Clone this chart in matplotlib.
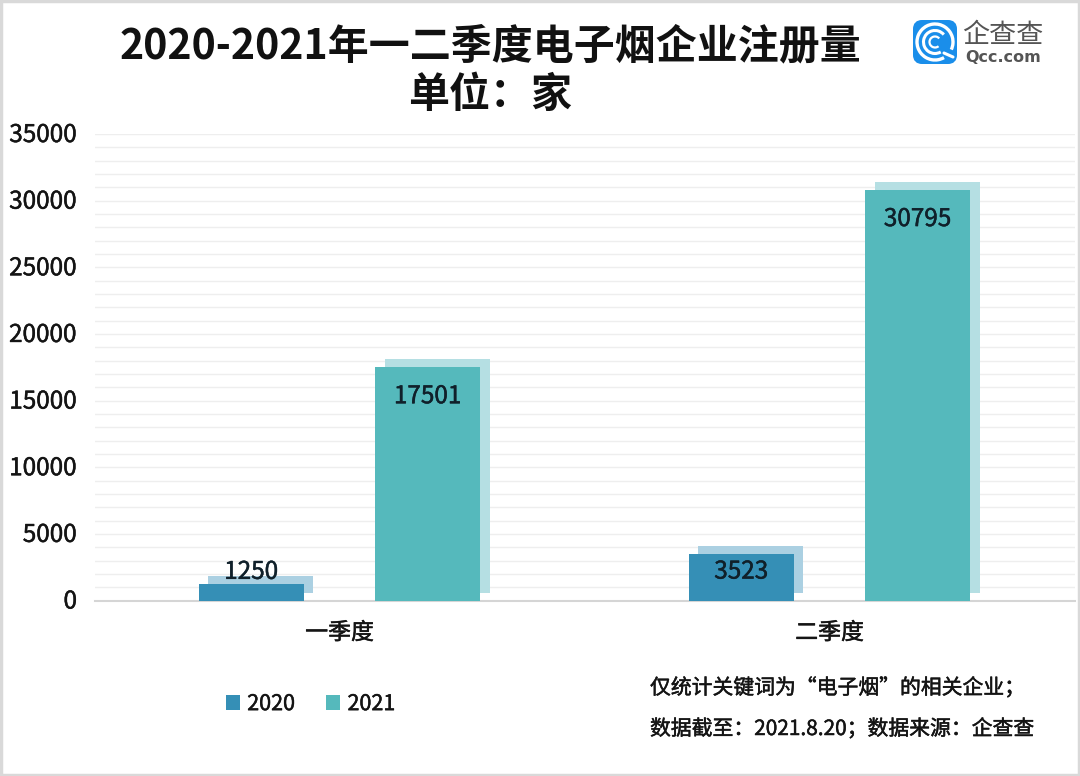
import matplotlib
matplotlib.use("Agg")
import matplotlib.pyplot as plt
import matplotlib.patheffects as pe
from matplotlib.patches import Rectangle, FancyBboxPatch, Arc
from matplotlib.transforms import ScaledTranslation
from matplotlib.ticker import MultipleLocator
import numpy as np

plt.rcParams['font.family'] = ['Noto Sans CJK SC', 'DejaVu Sans']

categories = ['一季度', '二季度']
series_names = ['2020', '2021']
values_2020 = [1250, 3523]
values_2021 = [17501, 30795]
y_ticks = [0, 5000, 10000, 15000, 20000, 25000, 30000, 35000]
title_lines = ['2020-2021年一二季度电子烟企业注册量', '单位：家']
note_lines = ['仅统计关键词为“电子烟”的相关企业；', '数据截至：2021.8.20；数据来源：企查查']

W, H = 1080, 776
C20, C21 = '#358fb6', '#55b9bc'
S20, S21 = '#abd0e2', '#b5dfe3'
TXT = '#141414'


def heavier(t, color=TXT, w=0.35):
    """Give regular text the slightly heavier look of the reference."""
    t.set_path_effects([pe.withStroke(linewidth=w, foreground=color)])


fig = plt.figure(figsize=(W / 100, H / 100), dpi=100, facecolor='white')
ax = fig.add_axes([94.5 / W, 1 - 600.5 / H, 980 / W, 466.5 / H])
ax.set_xlim(-0.5, 1.5)
ax.set_ylim(0, 35000)
ax.patch.set_alpha(0)

x = np.arange(len(categories))
off, bw = 0.18, 0.214
shift = ax.transData + ScaledTranslation(9.5 / 100, 8 / 100, fig.dpi_scale_trans)
ax.bar(x - off, values_2020, bw, color=S20, transform=shift, zorder=2)
ax.bar(x + off, values_2021, bw, color=S21, transform=shift, zorder=2)
ax.bar(x - off, values_2020, bw, color=C20, zorder=3, label=series_names[0])
ax.bar(x + off, values_2021, bw, color=C21, zorder=3, label=series_names[1])

# value labels: the small 2020 bar carries its label above, others just inside the top
lab = dict(ha='center', va='center', fontsize=17.5, color='#10202a', zorder=5)
for i, v in enumerate(values_2020):
    dy = 12 if v < 2000 else -18
    heavier(ax.annotate(str(v), (x[i] - off, v), xytext=(0, dy * 0.72),
                        textcoords='offset points', **lab), '#10202a')
for i, v in enumerate(values_2021):
    heavier(ax.annotate(str(v), (x[i] + off, v), xytext=(0, -29 * 0.72),
                        textcoords='offset points', **lab), '#10202a')

ax.set_yticks(y_ticks)
ax.yaxis.set_minor_locator(MultipleLocator(1000))
ax.grid(True, which='both', axis='y', color='#eeeeee', lw=1, zorder=0)
ax.set_axisbelow(True)
for s in ['top', 'right', 'left']:
    ax.spines[s].set_visible(False)
ax.spines['bottom'].set_color('#d5d5d5')
ax.spines['bottom'].set_linewidth(1.5)
ax.tick_params(axis='both', which='both', length=0)
ax.tick_params(axis='y', labelsize=17.5, labelcolor=TXT, pad=12.5)
ax.set_xticks(x)
ax.set_xticklabels(categories, fontsize=16.5, color=TXT)
ax.tick_params(axis='x', pad=15)
for t in ax.get_xticklabels():
    heavier(t)
up = ScaledTranslation(0, 2 / 100, fig.dpi_scale_trans)
for t in ax.get_yticklabels():
    heavier(t)
    t.set_transform(t.get_transform() + up)

leg = ax.legend(loc='upper left', bbox_to_anchor=(0.1143, -0.157), ncol=2, frameon=False,
                fontsize=15.5, handlelength=0.64, handleheight=0.64, handletextpad=0.35,
                columnspacing=1.45, labelcolor=TXT)
for t in leg.get_texts():
    heavier(t)

# page overlay in pixel coordinates: frame, title, notes, logo
ov = fig.add_axes([0, 0, 1, 1], zorder=10)
ov.set_xlim(0, W)
ov.set_ylim(H, 0)
ov.axis('off')
ov.patch.set_alpha(0)
ov.add_patch(Rectangle((1, 1), W - 2, H - 2, fill=False, ec='#d9d9d9', lw=2.5))
ov.text(490, 46, title_lines[0], fontsize=29.5, fontweight='bold', color='#111111', ha='center', va='center')
ov.text(490, 95, title_lines[1], fontsize=29.5, fontweight='bold', color='#111111', ha='center', va='center')
heavier(ov.text(650, 688, note_lines[0], fontsize=15, color=TXT, ha='left', va='center'))
heavier(ov.text(650, 729, note_lines[1], fontsize=15, color=TXT, ha='left', va='center'))

# logo
ov.add_patch(FancyBboxPatch((917, 24), 36, 36, boxstyle='round,pad=0,rounding_size=5',
                            mutation_aspect=1, fc='#1a8eea', ec='#1a8eea', lw=8 * 0.72))
for d, lw in [(36, 2.4), (23, 2.2), (11, 1.6)]:
    ov.add_patch(Arc((935, 42), d, d, angle=0, theta1=60 if d > 12 else 50,
                     theta2=385 if d > 30 else 320, color='white', lw=lw))
ov.plot([944, 953], [53, 57], color='white', lw=2.2, solid_capstyle='round')
ov.text(1003, 35, '企查查', fontsize=19.5, color='#555555', ha='center', va='center')
ov.text(1003, 57, 'Qcc.com', fontsize=11.5, color='#555555', ha='center', va='center',
        family=['DejaVu Sans'], fontweight='bold')

fig.savefig('out.png', dpi=100, facecolor='white')
